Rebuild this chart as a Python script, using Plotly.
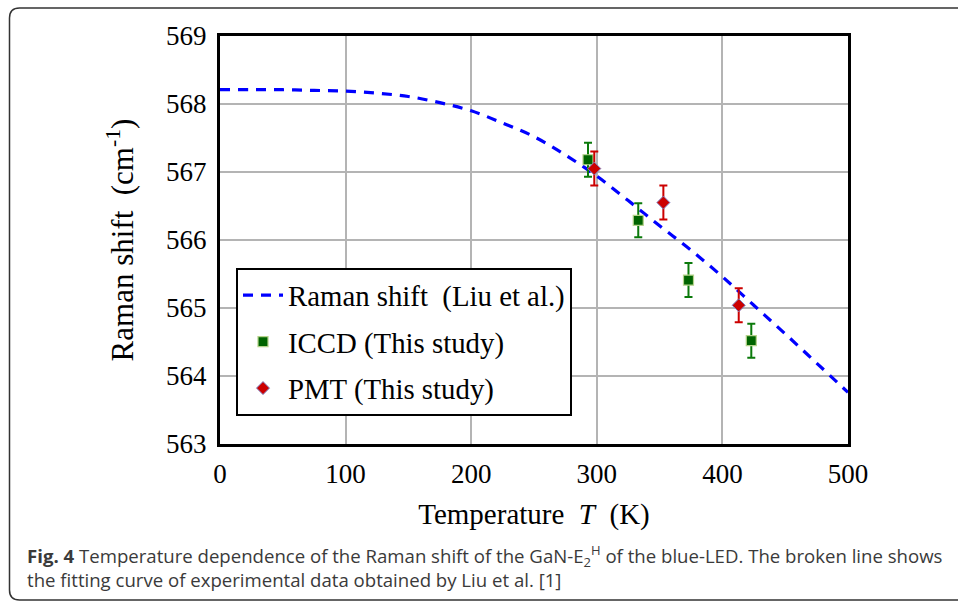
import plotly.graph_objects as go

# Fitting curve (Liu et al.)
curve_T = [0, 25, 50, 75, 100, 125, 150, 175, 200, 225, 250, 275, 300, 325, 350, 375, 400, 425, 450, 475, 500]
curve_w = [568.21, 568.21, 568.21, 568.20, 568.19, 568.16, 568.11, 568.02, 567.90, 567.72, 567.52, 567.25,
           566.94, 566.58, 566.21, 565.85, 565.46, 565.04, 564.62, 564.19, 563.76]

# ICCD (This study)
iccd_T = [293, 333, 373, 423]
iccd_w = [567.18, 566.29, 565.41, 564.52]
iccd_err = [0.25, 0.25, 0.25, 0.25]

# PMT (This study)
pmt_T = [298, 353, 413]
pmt_w = [567.05, 566.55, 565.04]
pmt_err = [0.25, 0.25, 0.25]

x_ticks = [0, 100, 200, 300, 400, 500]
y_ticks = [563, 564, 565, 566, 567, 568, 569]

W, H = 958, 602
L, R, T, B = 220, 848, 36, 444

serif = "Liberation Serif, Times New Roman, serif"

fig = go.Figure()
fig.add_trace(go.Scatter(
    x=curve_T, y=curve_w, mode="lines", name="Raman shift  (Liu et al.)", legendgroup="a",
    line=dict(color="#0000ff", width=3.2, dash="10px,8px", shape="spline"),
))
fig.add_trace(go.Scatter(
    x=iccd_T, y=iccd_w, mode="markers", name="ICCD (This study)", legendgroup="b",
    marker=dict(symbol="square", size=10, color="#006400", line=dict(color="#b5d38a", width=1.2)),
    error_y=dict(type="data", array=iccd_err, color="#0b7a0b", thickness=2, width=4),
))
fig.add_trace(go.Scatter(
    x=pmt_T, y=pmt_w, mode="markers", name="PMT (This study)", legendgroup="c",
    marker=dict(symbol="diamond", size=10, color="#cc0000", line=dict(color="#8080c0", width=1)),
    error_y=dict(type="data", array=pmt_err, color="#cc0000", thickness=2, width=4),
))

def px2paper_x(px):
    return (px - L) / (R - L)

def px2paper_y(py):
    return (B - py) / (B - T)

# outer rounded frame
x0, y0, y1, r = 9.5, 8, 600, 10
x1 = 975
path = (f"M {px2paper_x(x1)} {px2paper_y(y0)} "
        f"L {px2paper_x(x0 + r)} {px2paper_y(y0)} "
        f"Q {px2paper_x(x0)} {px2paper_y(y0)} {px2paper_x(x0)} {px2paper_y(y0 + r)} "
        f"L {px2paper_x(x0)} {px2paper_y(y1 - r)} "
        f"Q {px2paper_x(x0)} {px2paper_y(y1)} {px2paper_x(x0 + r)} {px2paper_y(y1)} "
        f"L {px2paper_x(x1)} {px2paper_y(y1)}")
fig.add_shape(type="path", path=path, xref="paper", yref="paper",
              line=dict(color="#333333", width=1.5))

cap_font = dict(family="Open Sans, sans-serif", size=18.6, color="#3a3a3a")
fig.add_annotation(
    x=px2paper_x(25), y=px2paper_y(566), xref="paper", yref="paper",
    xanchor="left", yanchor="middle", showarrow=False, align="left",
    text=("<b>Fig. 4</b> Temperature dependence of the Raman shift of the GaN-E<sub>2</sub><sup>H</sup>"
          " of the blue-LED. The broken line shows<br>"
          "the fitting curve of experimental data obtained by Liu et al. [1]"),
    font=cap_font,
)

fig.update_layout(
    width=W, height=H,
    margin=dict(l=L, r=W - R, t=T, b=H - B),
    paper_bgcolor="white", plot_bgcolor="white",
    font=dict(family=serif, size=27, color="black"),
    showlegend=True,
    legend=dict(
        x=px2paper_x(236), y=px2paper_y(268), xanchor="left", yanchor="top",
        bgcolor="white", bordercolor="black", borderwidth=2,
        font=dict(family=serif, size=28.8, color="black"),
        itemwidth=40, tracegroupgap=6,
    ),
    xaxis=dict(
        range=[0, 500], tickvals=x_ticks, ticktext=[str(v) for v in x_ticks],
        showgrid=True, gridcolor="#b4b4b4", gridwidth=1.5,
        showline=True, linecolor="black", linewidth=3, mirror=True,
        ticks="", zeroline=False, ticklabelstandoff=4,
        tickfont=dict(size=27),
        title=dict(text="Temperature  <i>T</i>  (K)", font=dict(size=29), standoff=16),
    ),
    yaxis=dict(
        range=[563, 569], tickvals=y_ticks, ticktext=[str(v) for v in y_ticks],
        showgrid=True, gridcolor="#b4b4b4", gridwidth=1.5,
        showline=True, linecolor="black", linewidth=3, mirror=True,
        ticks="", zeroline=False, ticklabelstandoff=5,
        tickfont=dict(size=27),
        title=dict(text="Raman shift  (cm<sup>-1</sup>)", font=dict(size=31), standoff=24),
    ),
)

fig.write_html("out.html", config={"displayModeBar": False},
               post_script="document.body.style.margin='0px';document.body.style.overflow='hidden';")
